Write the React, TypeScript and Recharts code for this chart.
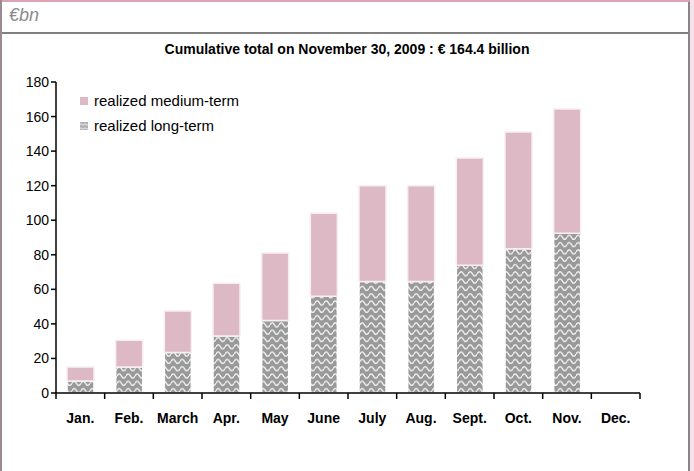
import React from 'react';
import { BarChart, Bar, XAxis, YAxis } from 'recharts';

const MONTHS = ['Jan.', 'Feb.', 'March', 'Apr.', 'May', 'June', 'July', 'Aug.', 'Sept.', 'Oct.', 'Nov.', 'Dec.'];
const LONG_TERM = [7, 15, 23.5, 33, 42, 56, 64.5, 64.5, 74, 83.5, 92.5, null];
const MEDIUM_TERM = [8, 15.5, 24, 30.5, 39, 48, 55.5, 55.5, 62, 67.5, 71.9, null];
const Y_TICKS = [0, 20, 40, 60, 80, 100, 120, 140, 160, 180];

const data = MONTHS.map((m, i) => ({ month: m, long: LONG_TERM[i], medium: MEDIUM_TERM[i] }));

const FONT = '"Liberation Sans", Arial, sans-serif';
const PINK = '#dcb9c5';
const GREY = '#999999';

const MonthTick = (props: any) => {
  const { x, y, payload, index } = props;
  const half = payload && payload.offset ? payload.offset : 24.3;
  return (
    <g>
      <line x1={x - half} y1={y - 8} x2={x - half} y2={y - 2} stroke="#000" strokeWidth={1.5} />
      {index === MONTHS.length - 1 && (
        <line x1={x + half} y1={y - 8} x2={x + half} y2={y - 2} stroke="#000" strokeWidth={1.5} />
      )}
      <text x={x} y={y + 22} textAnchor="middle" fontFamily={FONT} fontWeight="bold" fontSize={14} fill="#000">
        {payload.value}
      </text>
    </g>
  );
};

const LegendBox = () => (
  <div style={{ fontFamily: FONT, fontSize: 15, color: '#000', lineHeight: '25px' }}>
    <div style={{ display: 'flex', alignItems: 'center' }}>
      <span style={{ width: 8, height: 8, background: PINK, marginRight: 6, display: 'inline-block' }} />
      realized medium-term
    </div>
    <div style={{ display: 'flex', alignItems: 'center' }}>
      <svg width={8} height={8} style={{ marginRight: 6 }}>
        <rect width={8} height={8} fill="url(#waveSmall)" />
      </svg>
      realized long-term
    </div>
  </div>
);

export default function App() {
  return (
    <div style={{ position: 'absolute', left: 0, top: 0, width: 694, height: 471, background: '#fff', overflow: 'hidden' }}>
      <svg width={0} height={0} style={{ position: 'absolute' }}>
        <defs>
          <pattern id="wave" width={9} height={7.3} patternUnits="userSpaceOnUse">
            <rect width={9} height={7.3} fill={GREY} />
            <path d="M0 3.7 C1.5 0.9 3 0.9 4.5 3.7 S7.5 6.5 9 3.7" fill="none" stroke="#f2f2f2" strokeWidth={1.4} />
          </pattern>
          <pattern id="waveSmall" width={4} height={4} patternUnits="userSpaceOnUse">
            <rect width={4} height={4} fill="#b0b0b0" />
            <path d="M0 2.5 Q1 1 2 2.5 T4 2.5" fill="none" stroke="#eee" strokeWidth={1} />
          </pattern>
        </defs>
      </svg>
      {/* frame */}
      <div style={{ position: 'absolute', left: 0, top: 0, width: 694, height: 2, background: '#d9a3b4' }} />
      <div style={{ position: 'absolute', left: 0, top: 0, width: 2, height: 471, background: '#9c8a92' }} />
      <div style={{ position: 'absolute', left: 688, top: 2, width: 2, height: 469, background: '#878787' }} />
      <div style={{ position: 'absolute', left: 690, top: 0, width: 4, height: 471, background: '#f6e2ea' }} />
      <div style={{ position: 'absolute', left: 2, top: 32, width: 686, height: 2, background: '#808080' }} />
      <div style={{ position: 'absolute', left: 9, top: 5, fontFamily: FONT, fontStyle: 'italic', fontSize: 18, color: '#8a8a8a' }}>
        €bn
      </div>
      <div style={{ position: 'absolute', left: 0, width: 694, top: 41, textAlign: 'center', fontFamily: FONT, fontWeight: 'bold', fontSize: 14, color: '#000' }}>
        Cumulative total on November 30, 2009 : € 164.4 billion
      </div>
      <div style={{ position: 'absolute', left: 0, top: 0 }}>
        <BarChart width={694} height={471} data={data} margin={{ top: 82, right: 54, bottom: 38, left: 6 }} barSize={27}>
          <XAxis
            dataKey="month"
            axisLine={{ stroke: '#000', strokeWidth: 1.5 }}
            tickLine={false}
            tick={<MonthTick />}
            interval={0}
            height={40}
          />
          <YAxis
            width={50}
            domain={[0, 180]}
            ticks={Y_TICKS}
            axisLine={{ stroke: '#000', strokeWidth: 1.5 }}
            tickLine={{ stroke: '#000', strokeWidth: 1.5 }}
            tickSize={5}
            tick={{ fontFamily: FONT, fontSize: 14, fill: '#000' }}
            interval={0}
          />
          <Bar dataKey="long" stackId="a" fill="url(#wave)" stroke="#fff" strokeWidth={1.5} isAnimationActive={false} />
          <Bar dataKey="medium" stackId="a" fill={PINK} stroke="#f7eef1" strokeWidth={1.5} isAnimationActive={false} />
        </BarChart>
      </div>
      <div style={{ position: 'absolute', left: 80, top: 88 }}>
        <LegendBox />
      </div>
    </div>
  );
}
